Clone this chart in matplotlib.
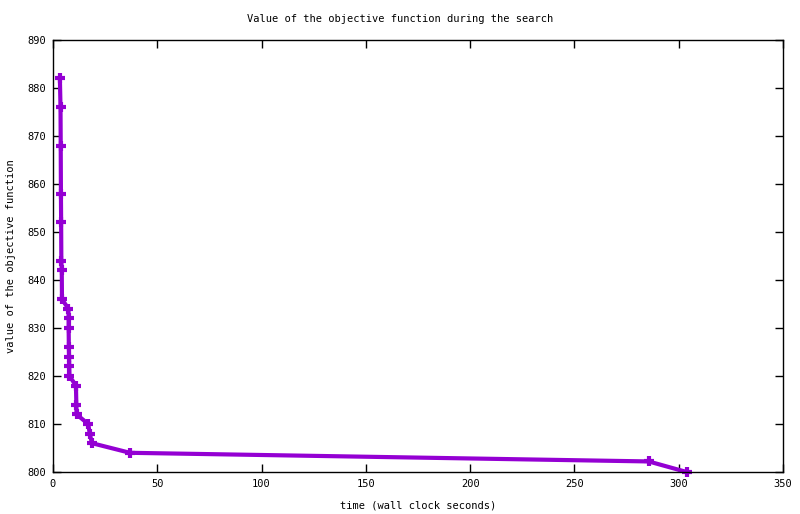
import matplotlib
matplotlib.use("Agg")
import matplotlib.pyplot as plt

# data
time_s = [3.3, 3.6, 3.7, 3.8, 3.9, 4.0, 4.2, 4.3,
          7.4, 7.5, 7.5, 7.6, 7.7, 7.8, 7.9,
          11.0, 11.2, 11.3, 16.9, 17.6, 18.7, 36.9, 285.6, 303.8]
objective = [882, 876, 868, 858, 852, 844, 842, 836,
             834, 832, 830, 826, 824, 822, 820,
             818, 814, 812, 810, 808, 806, 804, 802.2, 800]

x_ticks = [0, 50, 100, 150, 200, 250, 300, 350]
y_ticks = [800, 810, 820, 830, 840, 850, 860, 870, 880, 890]

title = "Value of the objective function during the search"
x_label = "time (wall clock seconds)"
y_label = "value of the objective function"

plt.rcParams['font.family'] = ['DejaVu Sans Mono']
plt.rcParams['font.size'] = 7.5

fig = plt.figure(figsize=(8.0, 5.14), dpi=100)
ax = fig.add_axes([53/800, 1-472/514, (783-53)/800, (472-40)/514])

ax.plot(time_s, objective, color='#9400D3', lw=3.0, marker='+',
        markersize=7.5, markeredgewidth=3.0, solid_joinstyle='miter', clip_on=False)

ax.set_xlim(0, 350)
ax.set_ylim(800, 890)
ax.set_xticks(x_ticks)
ax.set_yticks(y_ticks)
ax.tick_params(direction='in', length=6, width=1, top=True, right=True,
               colors='black', labelsize=7.5, pad=5)
for s in ax.spines.values():
    s.set_linewidth(1)
    s.set_color('black')

fig.text(0.5, 1-19/514, title, ha='center', va='center', fontsize=7.5)
fig.text(418/800, 1-505/514, x_label, ha='center', va='center', fontsize=7.5)
fig.text(11/800, 1-256/514, y_label, ha='center', va='center', rotation=90, fontsize=7.5)

fig.savefig('out.png', dpi=100)
